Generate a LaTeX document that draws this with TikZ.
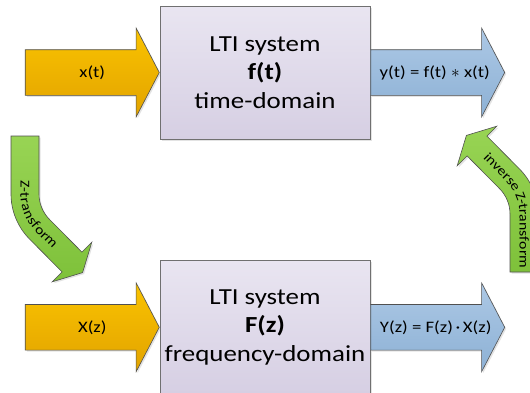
\documentclass[tikz,border=0pt]{standalone}
\usepackage{fontspec}
\setmainfont{Carlito}[FakeStretch=1.17]
\usetikzlibrary{shapes.arrows, positioning, shadows, decorations.text, calc}

\definecolor{boxtop}{RGB}{233,229,241}
\definecolor{boxbot}{RGB}{214,207,227}
\definecolor{boxline}{RGB}{112,112,112}
\definecolor{goldtop}{RGB}{250,195,0}
\definecolor{goldbot}{RGB}{226,163,0}
\definecolor{bluetop}{RGB}{172,200,229}
\definecolor{bluebot}{RGB}{141,177,213}
\definecolor{greentop}{RGB}{152,212,84}
\definecolor{greenbot}{RGB}{126,193,58}
\definecolor{arrowline}{RGB}{80,80,80}

\newcommand{\bentfont}{\fontsize{13.5}{13.5}\selectfont}

\begin{document}
\begin{tikzpicture}[
  x=1pt, y=-1pt,
  softshadow/.style={drop shadow={opacity=0.22, shadow xshift=1.5pt, shadow yshift=-1.5pt}},
  sysbox/.style={rectangle, draw=boxline, line width=0.8pt, top color=boxtop, bottom color=boxbot, minimum width=210pt, minimum height=133pt, align=center, font=\fontsize{23}{28.5}\selectfont, softshadow},
  blockarrow/.style={single arrow, draw=arrowline, line width=0.6pt, single arrow head extend=21.5pt, single arrow tip angle=125, minimum height=134pt, text height=11pt, text depth=4pt, inner ysep=15pt, softshadow},
  inarrow/.style={blockarrow, top color=goldtop, bottom color=goldbot},
  outarrow/.style={blockarrow, top color=bluetop, bottom color=bluebot},
  arrowlabel/.style={inner sep=0pt, font=\fontsize{16}{16}\selectfont},
  bentarrow/.style={draw=arrowline, line width=0.6pt, top color=greentop, bottom color=greenbot, softshadow}
]
  \useasboundingbox (0,0) rectangle (530,392);
  \clip (0,0) rectangle (530,392);

  % LTI systems
  \node[sysbox] (sys1) at (265,72.5) {LTI system\\\textbf{f(t)}\\time-domain};
  \node[sysbox, below=121pt of sys1] (sys2) {LTI system\\\textbf{F(z)}\\frequency-domain};

  % Inputs and outputs
  \node[inarrow, left=0pt of sys1] (xt) {};
  \node[outarrow, right=0pt of sys1] (yt) {};
  \node[inarrow, left=0pt of sys2] (xz) {};
  \node[outarrow, right=0pt of sys2] (yz) {};
  \node[arrowlabel] (xtlabel) at ($(xt.tail)!0.5!(xt.tip)$) {x(t)};
  \node[arrowlabel, xshift=-3pt] (ytlabel) at ($(yt.tail)!0.5!(yt.tip)$) {y(t) = f(t) $\ast$ x(t)};
  \node[arrowlabel] (xzlabel) at ($(xz.tail)!0.5!(xz.tip)$) {X(z)};
  \node[arrowlabel, xshift=-2pt] (yzlabel) at ($(yz.tail)!0.5!(yz.tip)$) {Y(z) = F(z)\,·\,X(z)};

  % Z-transform (bent arrow, left)
  \draw[bentarrow] (11,136) -- (11,194) .. controls (11,210.97) and (17.75,227.25) .. (29.75,239.25)
    -- (62.1,271.9) -- (52.2,281.8) -- (82.6,272.6) -- (91.8,242.2) -- (81.9,252.1)
    -- (49.54,219.46) .. controls (42.79,212.71) and (39,203.54) .. (39,194) -- (39,136) -- cycle;
  \path[decorate, decoration={text along path, text={|\bentfont|Z-transform}, text align={left, left indent=44pt}, raise=-4.5pt}]
    (25,136) -- (25,194) .. controls (25,207.25) and (30.27,219.99) .. (39.64,229.36) -- (72,262);

  % inverse Z-transform (bent arrow, right)
  \draw[bentarrow] (538,272) -- (538,214) .. controls (538,197.03) and (531.25,180.75) .. (519.25,168.75)
    -- (486.9,136.1) -- (496.8,126.2) -- (466.4,135.4) -- (457.2,165.8) -- (467.1,155.9)
    -- (499.46,188.54) .. controls (506.21,195.29) and (510,204.46) .. (510,214) -- (510,272) -- cycle;
  \path[decorate, decoration={text along path, text={|\bentfont|inverse Z-transform}, text align={left, left indent=13pt}, raise=-4.5pt}]
    (477,146) -- (509.36,178.64) .. controls (518.73,188.01) and (524,200.75) .. (524,214) -- (524,272);
\end{tikzpicture}
\end{document}
